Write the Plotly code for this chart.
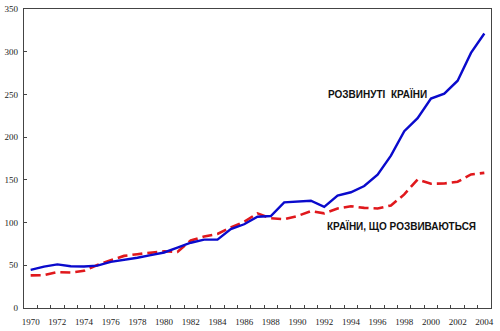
import plotly.graph_objects as go

years = list(range(1970, 2005))
developed = [44.7, 48.5, 51.0, 48.9, 48.5, 49.6, 54.0, 56.0, 58.8, 61.9,
             65.0, 70.7, 76.4, 80.0, 80.0, 92.4, 98.0, 106.9, 107.7, 123.7,
             124.9, 125.6, 118.4, 131.7, 135.5, 142.8, 156.0, 178.3, 207.0, 222.2,
             245.1, 250.9, 266.1, 298.6, 321.3]
developing = [38.2, 38.5, 42.0, 41.5, 43.5, 50.4, 56.0, 61.0, 63.0, 65.0,
              66.4, 65.6, 79.0, 83.6, 86.7, 94.3, 101.0, 110.8, 105.0, 103.9,
              107.7, 113.4, 110.8, 116.5, 119.1, 117.2, 116.5, 120.0, 133.0, 150.5,
              145.5, 145.8, 147.8, 156.3, 158.2]
label_developed = "РОЗВИНУТІ\u00a0\u00a0КРАЇНИ"
label_developing = "КРАЇНИ, ЩО РОЗВИВАЮТЬСЯ"
x_labels = list(range(1970, 2005, 2))
y_ticks = list(range(0, 351, 50))

fig = go.Figure()
fig.add_trace(go.Scatter(x=years, y=developing, mode="lines",
                         line=dict(color="#E0181C", width=2.6, dash="10px,5px"),
                         showlegend=False))
fig.add_trace(go.Scatter(x=years, y=developed, mode="lines",
                         line=dict(color="#0A0ACC", width=2.4),
                         showlegend=False))

axis_color = "#444444"
tickfont = dict(family="Liberation Serif, Times New Roman, serif", size=9, color="#222222")

fig.update_xaxes(range=[1969.5, 2004.5], tickmode="array", tickvals=x_labels,
                 ticktext=[str(v) for v in x_labels], ticks="", tickfont=tickfont,
                 showgrid=False, zeroline=False, showline=True, linecolor=axis_color,
                 linewidth=1.3, mirror=True, ticklabelstandoff=5,
                 minor=dict(tickmode="array", tickvals=[y + 0.5 for y in years[:-1]],
                            ticks="inside", ticklen=3, tickcolor=axis_color, tickwidth=1,
                            showgrid=False))
fig.update_yaxes(range=[0, 350], tickmode="array", tickvals=y_ticks, ticks="inside",
                 ticklen=3, tickcolor=axis_color, tickfont=tickfont, showgrid=False,
                 zeroline=False, showline=True, linecolor=axis_color, linewidth=1.3,
                 mirror=True, ticklabelstandoff=3)

fig.add_annotation(x=1996, y=251, text=label_developed, showarrow=False,
                   font=dict(family="Liberation Sans, Arial, sans-serif", size=10, color="#111111"),
                   xanchor="center", yanchor="middle")
fig.add_annotation(x=1997.8, y=96, text=label_developing, showarrow=False,
                   font=dict(family="Liberation Sans, Arial, sans-serif", size=10, color="#111111"),
                   xanchor="center", yanchor="middle")

fig.update_annotations(font_weight="bold")

fig.update_layout(width=500, height=331, margin=dict(l=24, r=9, t=4, b=22),
                  plot_bgcolor="white", paper_bgcolor="white")

fig.write_html("out.html")
